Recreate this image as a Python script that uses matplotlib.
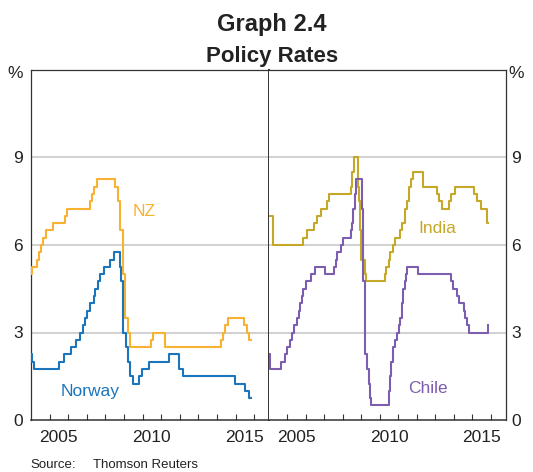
import matplotlib
matplotlib.use("Agg")
import matplotlib.pyplot as plt
from matplotlib.ticker import FixedLocator, NullFormatter

plt.rcParams['font.family'] = ['Liberation Sans', 'DejaVu Sans']

# 政策利率（阶梯序列：变动日期为小数年份，最后一点为序列终点）
nz_dates = [2004.0, 2004.06, 2004.30, 2004.42, 2004.55, 2004.67, 2004.80, 2005.17,
            2005.85, 2005.93, 2007.17, 2007.29, 2007.41, 2007.55, 2008.54, 2008.70,
            2008.79, 2008.94, 2009.08, 2009.21, 2009.30, 2010.45, 2010.58, 2011.18,
            2014.22, 2014.34, 2014.46, 2014.58, 2015.47, 2015.59, 2015.71, 2015.85]
nz_rates = [5.0, 5.25, 5.5, 5.75, 6.0, 6.25, 6.5, 6.75,
            7.0, 7.25, 7.5, 7.75, 8.0, 8.25, 8.0, 7.5,
            6.5, 5.0, 3.5, 3.0, 2.5, 2.75, 3.0, 2.5,
            2.75, 3.0, 3.25, 3.5, 3.25, 3.0, 2.75, 2.75]

norway_dates = [2004.0, 2004.03, 2004.18, 2005.49, 2005.80, 2006.15, 2006.40, 2006.61,
                2006.78, 2006.90, 2007.03, 2007.18, 2007.37, 2007.45, 2007.59, 2007.72,
                2007.95, 2008.27, 2008.45, 2008.76, 2008.85, 2008.97, 2009.10, 2009.22,
                2009.35, 2009.48, 2009.80, 2009.98, 2010.32, 2011.40, 2011.95, 2012.20,
                2014.97, 2015.49, 2015.74, 2015.85]
norway_rates = [2.25, 2.0, 1.75, 2.0, 2.25, 2.5, 2.75, 3.0,
                3.25, 3.5, 3.75, 4.0, 4.25, 4.5, 4.75, 5.0,
                5.25, 5.5, 5.75, 5.25, 4.75, 3.0, 2.5, 2.0,
                1.5, 1.25, 1.5, 1.75, 2.0, 2.25, 1.75, 1.5,
                1.25, 1.0, 0.75, 0.75]

india_dates = [2004.0, 2004.20, 2005.85, 2006.08, 2006.44, 2006.57, 2006.80, 2007.11,
               2007.23, 2008.43, 2008.49, 2008.58, 2008.82, 2008.88, 2008.94, 2009.00,
               2009.17, 2009.26, 2010.25, 2010.34, 2010.47, 2010.57, 2010.70, 2010.84,
               2011.10, 2011.20, 2011.33, 2011.45, 2011.56, 2011.69, 2011.81, 2012.32,
               2013.09, 2013.22, 2013.36, 2013.75, 2013.84, 2014.08, 2015.10, 2015.24,
               2015.46, 2015.78, 2015.86]
india_rates = [7.0, 6.0, 6.25, 6.5, 6.75, 7.0, 7.25, 7.5,
               7.75, 8.0, 8.5, 9.0, 8.0, 7.5, 6.5, 5.5,
               5.0, 4.75, 5.0, 5.25, 5.5, 5.75, 6.0, 6.25,
               6.5, 6.75, 7.25, 7.5, 8.0, 8.25, 8.5, 8.0,
               7.75, 7.5, 7.25, 7.5, 7.75, 8.0, 7.75, 7.5,
               7.25, 6.75, 6.75]

chile_dates = [2004.0, 2004.05, 2004.65, 2004.86, 2005.00, 2005.13, 2005.26, 2005.37,
               2005.51, 2005.62, 2005.69, 2005.76, 2005.85, 2005.98, 2006.26, 2006.51,
               2007.02, 2007.52, 2007.61, 2007.70, 2007.92, 2008.02, 2008.42, 2008.49,
               2008.54, 2008.63, 2008.71, 2009.03, 2009.10, 2009.21, 2009.28, 2009.39,
               2009.48, 2009.53, 2010.47, 2010.54, 2010.61, 2010.72, 2010.83, 2010.92,
               2011.01, 2011.11, 2011.18, 2011.27, 2011.33, 2011.40, 2011.47, 2012.05,
               2013.84, 2013.93, 2014.17, 2014.26, 2014.53, 2014.62, 2014.69, 2014.80,
               2015.82, 2015.86]
chile_rates = [2.25, 1.75, 2.0, 2.25, 2.5, 2.75, 3.0, 3.25,
               3.5, 3.75, 4.0, 4.25, 4.5, 4.75, 5.0, 5.25,
               5.0, 5.25, 5.5, 5.75, 6.0, 6.25, 6.5, 6.75,
               7.25, 7.75, 8.25, 7.25, 4.75, 2.25, 1.75, 1.25,
               0.75, 0.5, 1.0, 1.5, 2.0, 2.5, 2.75, 3.0,
               3.25, 3.5, 4.0, 4.5, 4.75, 5.0, 5.25, 5.0,
               4.75, 4.5, 4.25, 4.0, 3.75, 3.5, 3.25, 3.0,
               3.25, 3.25]

y_ticks = [0, 3, 6, 9]
year_labels = ['2005', '2010', '2015']

C_NZ = '#F9B131'
C_NOR = '#1B75BC'
C_IND = '#C6A829'
C_CHL = '#7D5DB0'
C_TXT = '#222222'
FS = 12.5

fig = plt.figure(figsize=(5.33, 4.72), dpi=100)
ax1 = fig.add_axes([31 / 533, 52 / 472, 238 / 533, 350 / 472])
ax2 = fig.add_axes([269 / 533, 52 / 472, 236.7 / 533, 350 / 472])

panels = [
    (ax1, [(nz_dates, nz_rates, C_NZ), (norway_dates, norway_rates, C_NOR)]),
    (ax2, [(india_dates, india_rates, C_IND), (chile_dates, chile_rates, C_CHL)]),
]

for ax, series in panels:
    for d, r, c in series:
        ax.plot(d, r, drawstyle='steps-post', color=c, lw=1.5, zorder=3)
    ax.set_xlim(2004.0, 2016.8)
    ax.set_ylim(0, 12)
    for y in y_ticks[1:]:
        ax.axhline(y, color='#C9C9C9', lw=1.2, zorder=1)
    # 年份标签放在年中，刻度线在年份分界
    ax.xaxis.set_major_locator(FixedLocator([int(s) + 0.5 for s in year_labels]))
    ax.set_xticklabels(year_labels)
    ax.xaxis.set_minor_locator(FixedLocator(list(range(2005, 2017))))
    ax.xaxis.set_minor_formatter(NullFormatter())
    ax.tick_params(axis='x', which='major', length=0, pad=7, labelsize=FS, colors=C_TXT)
    ax.tick_params(axis='x', which='minor', direction='in', length=4.5, width=0.8, color='#333333')
    ax.set_yticks(y_ticks)
    ax.tick_params(axis='y', length=0, labelsize=FS, colors=C_TXT)
    for s in ax.spines.values():
        s.set_color('#333333')
        s.set_linewidth(0.9)
    ax.spines['bottom'].set_linewidth(1.1)

ax1.tick_params(axis='y', pad=6)
ax1.spines['right'].set_linewidth(1.4)
ax2.spines['left'].set_visible(False)
ax2.yaxis.tick_right()
ax2.tick_params(axis='y', pad=4)

# 序列标签
ax1.text(2010.1, 7.15, 'NZ', color=C_NZ, fontsize=FS, ha='center', va='center')
ax1.text(2007.17, 0.97, 'Norway', color=C_NOR, fontsize=FS, ha='center', va='center')
ax2.text(2013.1, 6.58, 'India', color=C_IND, fontsize=FS, ha='center', va='center')
ax2.text(2012.6, 1.09, 'Chile', color=C_CHL, fontsize=FS, ha='center', va='center')

fig.text(15 / 533, 1 - 73 / 472, '%', fontsize=FS, ha='center', va='center', color=C_TXT)
fig.text(516 / 533, 1 - 73 / 472, '%', fontsize=FS, ha='center', va='center', color=C_TXT)

fig.text(0.51, 1 - 31 / 472, 'Graph 2.4', fontsize=17, fontweight='bold',
         ha='center', va='baseline', color=C_TXT)
fig.text(0.51, 1 - 62 / 472, 'Policy Rates', fontsize=16, fontweight='bold',
         ha='center', va='baseline', color=C_TXT)

fig.text(30 / 533, 1 - 465 / 472, 'Source:', fontsize=9.5, ha='left', va='center', color=C_TXT)
fig.text(93 / 533, 1 - 465 / 472, 'Thomson Reuters', fontsize=9.5, ha='left', va='center', color=C_TXT)

fig.savefig('out.png', dpi=100)
